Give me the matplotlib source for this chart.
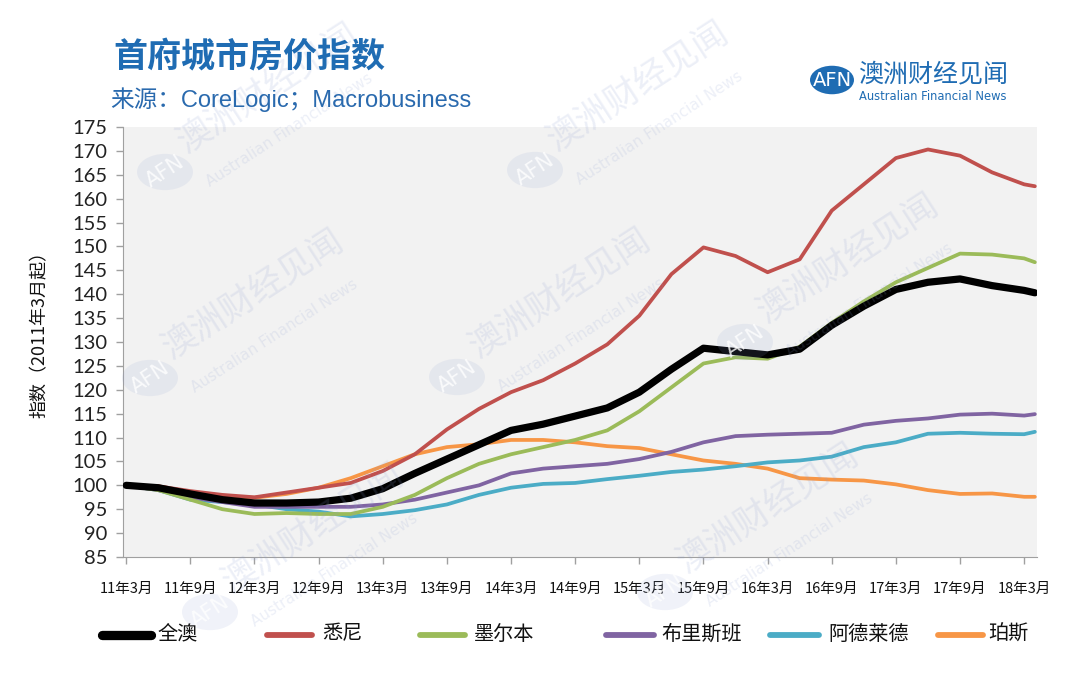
import matplotlib
matplotlib.use("Agg")
import matplotlib.pyplot as plt
from matplotlib.patches import Circle
from matplotlib.lines import Line2D

plt.rcParams['font.family'] = ['Noto Sans CJK SC', 'DejaVu Sans']

# ---------------- data (months since 2011-03) ----------------
months = [0, 3, 6, 9, 12, 15, 18, 21, 24, 27, 30, 33, 36, 39, 42, 45, 48,
          51, 54, 57, 60, 63, 66, 69, 72, 75, 78, 81, 84, 85]

national = [100, 99.5, 98.2, 97.0, 96.3, 96.3, 96.5, 97.3, 99.3, 102.5, 105.5,
            108.5, 111.5, 112.8, 114.5, 116.2, 119.5, 124.3, 128.7, 128.0,
            127.3, 128.5, 133.5, 137.5, 141.0, 142.5, 143.2, 141.8, 140.8, 140.3]
sydney = [100, 99.8, 98.8, 98.0, 97.5, 98.5, 99.5, 100.5, 103.0, 106.5, 111.7,
          116.0, 119.5, 122.0, 125.5, 129.5, 135.5, 144.2, 149.8, 148.0,
          144.6, 147.3, 157.5, 163.0, 168.5, 170.3, 169.0, 165.5, 163.0, 162.6]
melbourne = [100, 99.0, 97.0, 95.0, 94.0, 94.2, 94.0, 94.0, 95.5, 98.0, 101.5,
             104.5, 106.5, 108.0, 109.5, 111.5, 115.5, 120.5, 125.5, 126.8,
             126.5, 129.0, 134.0, 138.5, 142.5, 145.5, 148.5, 148.3, 147.5, 146.7]
brisbane = [100, 99.0, 97.5, 96.5, 95.5, 95.5, 95.5, 95.5, 96.0, 97.0, 98.5,
            100.0, 102.5, 103.5, 104.0, 104.5, 105.5, 107.0, 109.0, 110.3,
            110.6, 110.8, 111.0, 112.7, 113.5, 114.0, 114.8, 115.0, 114.6, 114.9]
adelaide = [100, 99.0, 97.0, 96.5, 96.0, 95.0, 94.5, 93.5, 94.0, 94.8, 96.0,
            98.0, 99.5, 100.3, 100.5, 101.3, 102.0, 102.8, 103.3, 104.0,
            104.8, 105.2, 106.0, 108.0, 109.0, 110.8, 111.0, 110.8, 110.7, 111.2]
perth = [100, 99.8, 98.5, 97.5, 97.4, 98.2, 99.5, 101.5, 104.0, 106.5, 108.0,
         108.6, 109.5, 109.5, 109.0, 108.2, 107.8, 106.5, 105.2, 104.5,
         103.5, 101.5, 101.2, 101.0, 100.2, 99.0, 98.2, 98.3, 97.6, 97.6]

tick_months = [0, 6, 12, 18, 24, 30, 36, 42, 48, 54, 60, 66, 72, 78, 84]
tick_labels = ['11年3月', '11年9月', '12年3月', '12年9月', '13年3月', '13年9月',
               '14年3月', '14年9月', '15年3月', '15年9月', '16年3月', '16年9月',
               '17年3月', '17年9月', '18年3月']
y_ticks = list(range(85, 176, 5))

series_names = ['全澳', '悉尼', '墨尔本', '布里斯班', '阿德莱德', '珀斯']
series_data = [national, sydney, melbourne, brisbane, adelaide, perth]
series_colors = ['#000000', '#c0504d', '#9bbb59', '#8064a2', '#4bacc6', '#f79646']
series_lw = [5.2, 2.7, 2.7, 2.7, 2.7, 2.7]

W, H = 1080, 700
fig = plt.figure(figsize=(W / 100, H / 100), dpi=100)
fig.patch.set_facecolor('white')


def fx(px):
    return px / W


def fy(py):
    return 1 - py / H


# ---------------- watermarks ----------------
def watermark(cx, cy, z=0):
    col = (0.55, 0.62, 0.82)
    circ = Circle((fx(cx), fy(cy)), 28 / W, transform=fig.transFigure,
                  facecolor=col, edgecolor='none', alpha=0.13, zorder=z)
    fig.patches.append(circ)
    fig.text(fx(cx), fy(cy), 'AFN', color='white', fontsize=15, rotation=33,
             ha='center', va='center', alpha=0.8, zorder=z + 0.1,
             family=['DejaVu Sans'])
    fig.text(fx(cx + 25), fy(cy - 12), '澳洲财经见闻', color=col, alpha=0.16,
             fontsize=25, rotation=33, ha='left', va='bottom',
             rotation_mode='anchor', zorder=z + 0.1)
    fig.text(fx(cx + 38), fy(cy + 5), 'Australian Financial News', color=col,
             alpha=0.16, fontsize=11, rotation=33, ha='left', va='top',
             rotation_mode='anchor', zorder=z + 0.1, family=['DejaVu Sans'])


ax = fig.add_axes([fx(123), fy(557), fx(1037) - fx(123), fy(127) - fy(557)])
ax.set_facecolor('#f2f2f2')
ax.set_zorder(1)

for name, vals, c, lw in zip(series_names[::-1], series_data[::-1],
                             series_colors[::-1], series_lw[::-1]):
    ax.plot(months, vals, color=c, lw=lw, solid_capstyle='round',
            solid_joinstyle='round', zorder=3)

ax.set_xlim(-0.3, 85.2)
ax.set_ylim(85, 175)
ax.set_yticks(y_ticks)
ax.set_yticklabels([str(v) for v in y_ticks], fontsize=14.5,
                   family=['Lato', 'DejaVu Sans'], color='#222222')
ax.set_xticks(tick_months)
ax.set_xticklabels(tick_labels, fontsize=10.5, color='#111111')
ax.tick_params(axis='both', direction='out', length=5, color='#a0a0a0', width=1)
ax.tick_params(axis='x', pad=13)
ax.tick_params(axis='y', pad=6)
for s in ['top', 'right']:
    ax.spines[s].set_visible(False)
for s in ['left', 'bottom']:
    ax.spines[s].set_color('#a0a0a0')

fig.text(fx(40), fy(330), '指数（2011年3月起）', rotation=90, fontsize=13,
         ha='center', va='center', color='#111111')

# watermarks (drawn above axes background)
wm_ax = fig.add_axes([0, 0, 1, 1], facecolor='none')
wm_ax.set_axis_off()
wm_ax.set_zorder(2)
for (cx, cy) in [(165, 172), (535, 170), (150, 378), (457, 377),
                 (745, 342), (210, 612), (665, 592)]:
    watermark(cx, cy, z=2)

# ---------------- titles ----------------
fig.text(fx(113), fy(57), '首府城市房价指数', fontsize=24.5, fontweight='bold',
         color='#1f6cb3', ha='left', va='center')
fig.text(fx(110), fy(100), '来源：CoreLogic；Macrobusiness', fontsize=17,
         family=['Liberation Sans', 'Noto Sans CJK SC'],
         color='#2a6aae', ha='left', va='center')

# logo
logo_c = Circle((fx(832), fy(80)), 22 / W, transform=fig.transFigure,
                facecolor='#1f6cb3', edgecolor='none', zorder=5)
fig.patches.append(logo_c)
fig.text(fx(832), fy(80), 'AFN', color='white', fontsize=14, ha='center',
         va='center', family=['DejaVu Sans'], zorder=6)
fig.text(fx(858), fy(74), '澳洲财经见闻', fontsize=18, color='#1f6cb3',
         ha='left', va='center', zorder=6)
fig.text(fx(859), fy(96), 'Australian Financial News', fontsize=8.3,
         color='#1f6cb3', ha='left', va='center', family=['DejaVu Sans'], zorder=6)

# ---------------- legend ----------------
leg_items = [(102, 151, 157), (267, 312, 322), (420, 465, 474),
             (606, 654, 661), (770, 819, 828), (938, 983, 988)]
for (x0, x1, xt), name, c, lw in zip(leg_items, series_names, series_colors,
                                     series_lw):
    ln = Line2D([fx(x0), fx(x1)], [fy(635), fy(635)], transform=fig.transFigure,
                color=c, lw=lw + 1.5, solid_capstyle='round')
    fig.lines.append(ln)
    fig.text(fx(xt), fy(634), name, fontsize=14.5, ha='left', va='center',
             color='#111111', fontweight='medium')

fig.savefig('out.png', dpi=100)
